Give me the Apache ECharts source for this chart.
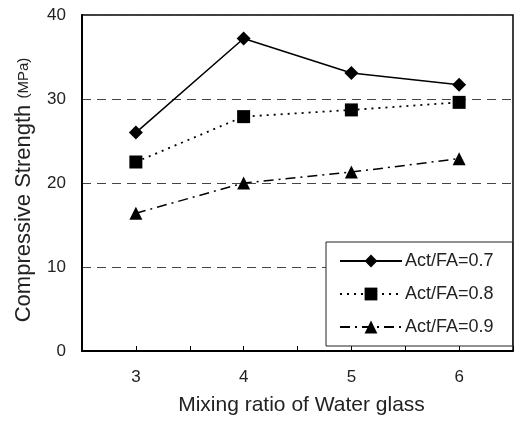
<!DOCTYPE html>
<html><head><meta charset="utf-8">
<script src="https://cdn.jsdelivr.net/npm/echarts@6/dist/echarts.min.js"></script>
<style>html,body{margin:0;padding:0;background:#fff}#c{width:516px;height:421px}</style>
</head><body><div id="c"></div>
<script>
const xValues = [3, 4, 5, 6];
const seriesNames = ['Act/FA=0.7', 'Act/FA=0.8', 'Act/FA=0.9'];
const act07 = [26.0, 37.2, 33.1, 31.7];
const act08 = [22.5, 27.9, 28.7, 29.6];
const act09 = [16.4, 20.0, 21.3, 22.9];
const yTicks = [0, 10, 20, 30, 40];
const xTitle = 'Mixing ratio of Water glass';
const yTitle = 'Compressive Strength';
const yUnit = '(MPa)';

const font = 'Liberation Sans, Arial, sans-serif';
const pairs = v => xValues.map((x, i) => [x, v[i]]);
const chart = echarts.init(document.getElementById('c'));
chart.setOption({
  animation: false,
  backgroundColor: '#fff',
  textStyle: {fontFamily: font, color: '#222'},
  grid: {left: 82, right: 3, top: 15, bottom: 64, show: true, borderColor: '#000', borderWidth: 1.5},
  xAxis: {
    type: 'value', min: 2.5, max: 6.5, interval: 0.5,
    axisLine: {show: true, lineStyle: {color: '#000', width: 2}},
    axisTick: {show: true, inside: true, length: 5, lineStyle: {color: '#000'}},
    axisLabel: {fontSize: 17, color: '#222', margin: 18, fontFamily: font,
      formatter: v => Number.isInteger(v) && v >= 3 && v <= 6 ? String(v) : ''},
    splitLine: {show: false},
    name: xTitle, nameLocation: 'middle', nameGap: 44,
    nameTextStyle: {fontSize: 21, color: '#222', fontFamily: font, padding: [0, 0, 0, 8]}
  },
  yAxis: {
    type: 'value', min: 0, max: 40, interval: 10,
    axisLine: {show: true, lineStyle: {color: '#000', width: 2}},
    axisTick: {show: false},
    axisLabel: {fontSize: 17, color: '#222', margin: 16, fontFamily: font,
      formatter: v => yTicks.includes(v) ? String(v) : ''},
    splitLine: {show: true, lineStyle: {color: '#444', type: [9, 6], width: 1}},
    name: '{a|' + yTitle + ' }{b|' + yUnit + '}', nameLocation: 'middle', nameGap: 47, nameRotate: 90,
    nameTextStyle: {padding: [0, 14, 0, 0], rich: {
      a: {fontSize: 22, color: '#222', fontFamily: font},
      b: {fontSize: 15, color: '#222', fontFamily: font}
    }}
  },
  legend: {
    orient: 'vertical', left: 326, top: 242,
    data: seriesNames,
    backgroundColor: '#fff', borderColor: '#222', borderWidth: 1,
    padding: [10, 19, 10, 13], itemGap: 15, itemWidth: 62, itemHeight: 16,
    textStyle: {fontSize: 18, color: '#222', fontFamily: font, padding: [0, 0, 0, -2]}
  },
  series: [
    {name: seriesNames[0], type: 'line', data: pairs(act07), symbol: 'diamond', symbolSize: 14,
     itemStyle: {color: '#000'}, lineStyle: {color: '#000', width: 1.5, type: 'solid'}},
    {name: seriesNames[1], type: 'line', data: pairs(act08), symbol: 'rect', symbolSize: 13,
     itemStyle: {color: '#000'}, lineStyle: {color: '#000', width: 1.8, type: [2, 5]}},
    {name: seriesNames[2], type: 'line', data: pairs(act09), symbol: 'triangle', symbolSize: 13,
     itemStyle: {color: '#000'}, lineStyle: {color: '#000', width: 1.5, type: [10, 5, 2, 5]}}
  ]
});
</script></body></html>
